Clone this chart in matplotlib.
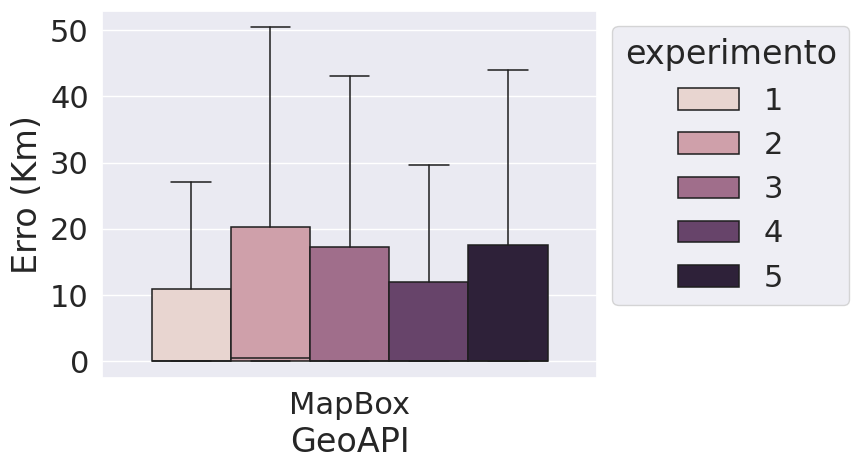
import matplotlib
matplotlib.use("Agg")
import matplotlib.pyplot as plt
import seaborn as sns
from matplotlib.patches import Patch

# valores (erro em Km) por experimento
experimentos = [1, 2, 3, 4, 5]
whislo = [0.0, 0.0, 0.0, 0.0, 0.0]
q1 = [0.0, 0.0, 0.0, 0.0, 0.0]
medianas = [0.05, 0.45, 0.1, 0.05, 0.05]
q3 = [10.9, 20.3, 17.2, 11.9, 17.6]
whishi = [27.1, 50.4, 43.1, 29.6, 44.0]
categoria = "MapBox"

cores = ["#e8d5d0", "#cfa0aa", "#a06e8b", "#67446a", "#2e2139"]
linha = "#1e1e1e"

sns.set_theme(style="darkgrid", font_scale=2)

fig = plt.figure(figsize=(8.58, 4.70), dpi=100)
ax = fig.add_axes([0.119, 0.196, 0.577, 0.781])

n = len(experimentos)
w = 0.8 / n
pos = [-0.4 + w * (i + 0.5) for i in range(n)]

stats = []
for i in range(n):
    stats.append(dict(whislo=whislo[i], q1=q1[i], med=medianas[i],
                      q3=q3[i], whishi=whishi[i], fliers=[]))

bp = ax.bxp(stats, positions=pos, widths=w, patch_artist=True,
            showfliers=False, manage_ticks=False,
            boxprops=dict(edgecolor=linha, linewidth=1.1),
            whiskerprops=dict(color=linha, linewidth=1.1),
            capprops=dict(color=linha, linewidth=1.1),
            medianprops=dict(color=linha, linewidth=1.1),
            capwidths=w * 0.5)
for caixa, c in zip(bp["boxes"], cores):
    caixa.set_facecolor(c)

ax.set_xlim(-0.5, 0.5)
ax.set_xticks([0])
ax.set_xticklabels([categoria])
ax.xaxis.grid(False)
ax.set_yticks([0, 10, 20, 30, 40, 50])
ax.set_ylim(-2.5, 52.9)
ax.set_xlabel("GeoAPI")
ax.set_ylabel("Erro (Km)")

handles = [Patch(facecolor=c, edgecolor=linha, linewidth=1.1) for c in cores]
ax.legend(handles, [str(e) for e in experimentos], title="experimento",
          loc="upper left", bbox_to_anchor=(1, 1))

fig.savefig("out.png", dpi=100)
